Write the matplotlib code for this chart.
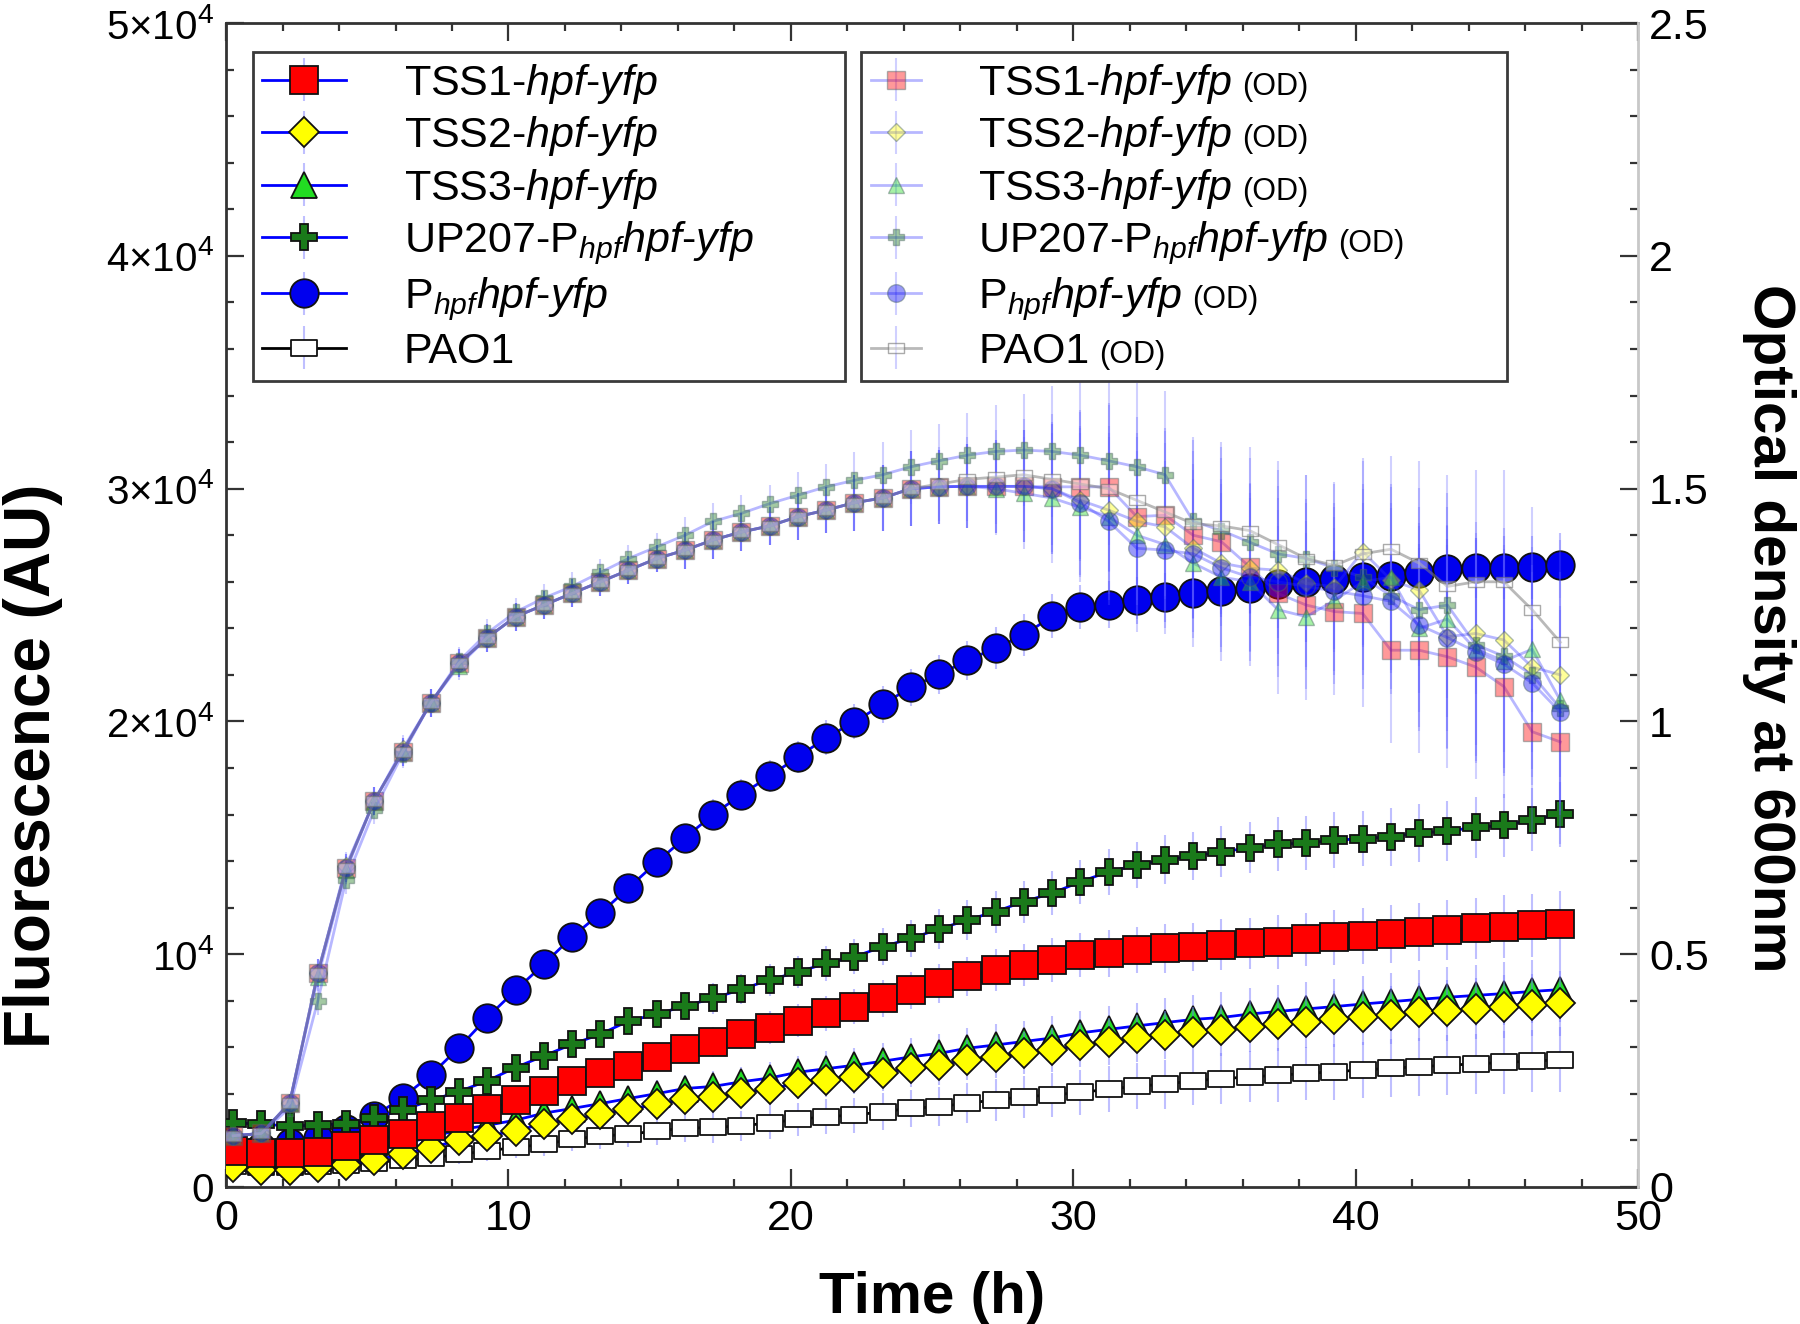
import matplotlib
matplotlib.use("Agg")
import matplotlib.pyplot as plt
from matplotlib.path import Path
from matplotlib.ticker import MultipleLocator, FixedLocator, FixedFormatter
from matplotlib.transforms import IdentityTransform

plt.rcParams['font.family'] = 'Liberation Sans'
plt.rcParams['mathtext.fontset'] = 'custom'
plt.rcParams['mathtext.rm'] = 'Liberation Sans'
plt.rcParams['mathtext.it'] = 'Liberation Sans:italic'
plt.rcParams['mathtext.bf'] = 'Liberation Sans:bold'

# sampling times (h)
time_h = [0.25, 1.25, 2.25, 3.25, 4.25, 5.25, 6.25, 7.25, 8.25, 9.25,
          10.25, 11.25, 12.25, 13.25, 14.25, 15.25, 16.25, 17.25, 18.25, 19.25,
          20.25, 21.25, 22.25, 23.25, 24.25, 25.25, 26.25, 27.25, 28.25, 29.25,
          30.25, 31.25, 32.25, 33.25, 34.25, 35.25, 36.25, 37.25, 38.25, 39.25,
          40.25, 41.25, 42.25, 43.25, 44.25, 45.25, 46.25, 47.25]

# fluorescence (AU)
fl_tss1 = [1550, 1480, 1480, 1500, 1760, 2010, 2260, 2620, 2980, 3340,
           3720, 4130, 4560, 4910, 5200, 5590, 5920, 6230, 6580, 6840,
           7150, 7460, 7750, 8100, 8450, 8750, 9050, 9320, 9540, 9750,
           9970, 10040, 10180, 10250, 10310, 10400, 10470, 10530, 10640, 10720,
           10800, 10870, 10950, 11030, 11110, 11190, 11240, 11300]
fl_tss2 = [850, 750, 750, 850, 950, 1150, 1400, 1690, 2010, 2190,
           2410, 2720, 2910, 3120, 3340, 3550, 3770, 3850, 4050, 4200,
           4460, 4600, 4740, 4910, 5100, 5240, 5460, 5600, 5740, 5880,
           6100, 6240, 6390, 6530, 6670, 6740, 6890, 7000, 7100, 7200,
           7300, 7400, 7500, 7580, 7660, 7740, 7820, 7890]
fl_tss3 = [1250, 1150, 1150, 1250, 1400, 1600, 1850, 2150, 2450, 2650,
           2870, 3170, 3370, 3580, 3800, 4010, 4230, 4320, 4520, 4680,
           4930, 5080, 5230, 5400, 5590, 5740, 5960, 6100, 6250, 6400,
           6620, 6770, 6920, 7060, 7200, 7280, 7430, 7540, 7650, 7750,
           7860, 7960, 8060, 8150, 8230, 8310, 8400, 8480]
fl_up207 = [2760, 2700, 2620, 2660, 2720, 2980, 3300, 3720, 4100, 4560,
            5130, 5630, 6130, 6560, 7130, 7420, 7780, 8100, 8490, 8900,
            9230, 9610, 9890, 10320, 10680, 11080, 11470, 11830, 12260, 12620,
            13110, 13540, 13830, 14050, 14220, 14400, 14570, 14730, 14780, 14890,
            14970, 15050, 15210, 15290, 15450, 15530, 15770, 16010]
fl_phpf = [1800, 1700, 1900, 2100, 2500, 3050, 3840, 4810, 5990, 7280,
           8450, 9570, 10740, 11750, 12850, 13950, 15000, 16000, 16860, 17650,
           18470, 19300, 19980, 20730, 21470, 22020, 22620, 23160, 23710, 24520,
           24910, 25020, 25200, 25340, 25500, 25600, 25740, 25900, 25980, 26140,
           26220, 26270, 26380, 26550, 26600, 26600, 26630, 26700]
fl_pao1 = [900, 850, 850, 900, 950, 1050, 1150, 1250, 1400, 1550,
           1700, 1830, 2050, 2190, 2260, 2410, 2520, 2560, 2620, 2760,
           2900, 3020, 3090, 3230, 3380, 3450, 3600, 3740, 3880, 3950,
           4060, 4200, 4330, 4420, 4560, 4650, 4730, 4800, 4880, 4950,
           5030, 5100, 5170, 5230, 5290, 5350, 5410, 5460]
fl_err = [300, 300, 300, 300, 300, 350, 350, 400, 400, 450,
          450, 500, 500, 550, 550, 600, 600, 650, 650, 700,
          700, 750, 750, 800, 800, 850, 850, 900, 900, 950,
          950, 1000, 1000, 1050, 1050, 1100, 1100, 1150, 1150, 1200,
          1200, 1250, 1250, 1300, 1300, 1350, 1350, 1400]

# optical density at 600 nm
od_tss1 = [0.11, 0.115, 0.18, 0.46, 0.685, 0.83, 0.935, 1.04, 1.125, 1.18,
           1.225, 1.25, 1.275, 1.30, 1.325, 1.35, 1.368, 1.39, 1.407, 1.42,
           1.44, 1.454, 1.47, 1.48, 1.50, 1.504, 1.505, 1.505, 1.505, 1.504,
           1.504, 1.504, 1.44, 1.443, 1.40, 1.386, 1.332, 1.275, 1.25, 1.236,
           1.232, 1.153, 1.153, 1.139, 1.117, 1.075, 0.978, 0.956]
od_tss2 = [0.11, 0.115, 0.18, 0.46, 0.69, 0.83, 0.94, 1.04, 1.125, 1.18,
           1.225, 1.25, 1.275, 1.30, 1.325, 1.35, 1.368, 1.39, 1.407, 1.42,
           1.44, 1.454, 1.47, 1.48, 1.50, 1.504, 1.505, 1.505, 1.505, 1.50,
           1.475, 1.454, 1.43, 1.418, 1.372, 1.34, 1.329, 1.325, 1.297, 1.289,
           1.365, 1.304, 1.282, 1.182, 1.189, 1.175, 1.117, 1.10]
od_tss3 = [0.11, 0.115, 0.18, 0.45, 0.68, 0.83, 0.935, 1.04, 1.12, 1.18,
           1.225, 1.25, 1.275, 1.30, 1.325, 1.35, 1.368, 1.39, 1.407, 1.42,
           1.44, 1.454, 1.47, 1.48, 1.50, 1.504, 1.505, 1.50, 1.49, 1.48,
           1.46, 1.44, 1.40, 1.38, 1.34, 1.31, 1.30, 1.24, 1.225, 1.26,
           1.30, 1.31, 1.20, 1.22, 1.155, 1.13, 1.155, 1.045]
od_up207 = [0.11, 0.115, 0.17, 0.40, 0.66, 0.81, 0.93, 1.04, 1.13, 1.19,
            1.235, 1.265, 1.29, 1.32, 1.35, 1.375, 1.40, 1.43, 1.447, 1.468,
            1.486, 1.504, 1.518, 1.53, 1.547, 1.56, 1.572, 1.58, 1.583, 1.58,
            1.572, 1.56, 1.547, 1.53, 1.43, 1.41, 1.385, 1.36, 1.35, 1.33,
            1.31, 1.27, 1.24, 1.25, 1.165, 1.14, 1.10, 1.028]
od_phpf = [0.11, 0.115, 0.18, 0.46, 0.685, 0.83, 0.935, 1.04, 1.125, 1.18,
           1.225, 1.25, 1.275, 1.30, 1.325, 1.35, 1.368, 1.39, 1.407, 1.42,
           1.44, 1.454, 1.47, 1.48, 1.50, 1.504, 1.505, 1.505, 1.505, 1.50,
           1.47, 1.43, 1.372, 1.368, 1.36, 1.33, 1.31, 1.30, 1.29, 1.28,
           1.27, 1.258, 1.207, 1.18, 1.15, 1.123, 1.083, 1.02]
od_pao1 = [0.11, 0.115, 0.18, 0.46, 0.685, 0.83, 0.935, 1.04, 1.125, 1.18,
           1.225, 1.25, 1.275, 1.30, 1.325, 1.35, 1.368, 1.39, 1.407, 1.42,
           1.44, 1.454, 1.47, 1.48, 1.50, 1.51, 1.52, 1.525, 1.53, 1.52,
           1.51, 1.50, 1.475, 1.45, 1.425, 1.42, 1.41, 1.38, 1.35, 1.335,
           1.36, 1.37, 1.34, 1.29, 1.30, 1.30, 1.24, 1.17]
od_err = [0.01, 0.01, 0.02, 0.03, 0.03, 0.03, 0.03, 0.03, 0.03, 0.03,
          0.03, 0.03, 0.03, 0.03, 0.03, 0.03, 0.04, 0.04, 0.04, 0.04,
          0.05, 0.05, 0.06, 0.07, 0.08, 0.08, 0.09, 0.10, 0.12, 0.14,
          0.16, 0.18, 0.18, 0.18, 0.18, 0.18, 0.18, 0.18, 0.18, 0.18,
          0.20, 0.20, 0.22, 0.24, 0.24, 0.24, 0.22, 0.22]

labels_fl = ["TSS1-$\\mathit{hpf}$-$\\mathit{yfp}$",
             "TSS2-$\\mathit{hpf}$-$\\mathit{yfp}$",
             "TSS3-$\\mathit{hpf}$-$\\mathit{yfp}$",
             "UP207-$\\mathrm{P}_{\\mathit{hpf}}\\mathit{hpf}$-$\\mathit{yfp}$",
             "$\\mathrm{P}_{\\mathit{hpf}}\\mathit{hpf}$-$\\mathit{yfp}$",
             "PAO1"]

rect = Path([(-1, -0.62), (1, -0.62), (1, 0.62), (-1, 0.62), (-1, -0.62)],
            [Path.MOVETO, Path.LINETO, Path.LINETO, Path.LINETO, Path.CLOSEPOLY])

# marker, face colour, marker size, line colour
styles = [
    ("s", "#ff0000", 20, "#0000ff"),
    ("D", "#ffff00", 15, "#0000ff"),
    ("^", "#22dd22", 19, "#0000ff"),
    ("P", "#1a7a1a", 19, "#0000ff"),
    ("o", "#0000ee", 20.5, "#0000ff"),
    (rect, "#ffffff", 19, "#000000"),
]
fl_data = [fl_tss1, fl_tss2, fl_tss3, fl_up207, fl_phpf, fl_pao1]
od_data = [od_tss1, od_tss2, od_tss3, od_up207, od_phpf, od_pao1]

fig = plt.figure(figsize=(18, 13.24), dpi=100)
ax = fig.add_axes([0.1256, 0.1035, 0.7844, 0.879])
ax2 = ax.twinx()

err_col = (0.45, 0.45, 1.0, 0.45)

fl_handles = [None] * 6
for i in reversed(range(6)):
    m, fc, ms, lc = styles[i]
    h = ax.errorbar(time_h, fl_data[i], yerr=fl_err, color=lc, lw=2.0,
                    marker=m, ms=ms, mfc=fc, mec="#111111", mew=1.3,
                    ecolor=err_col, elinewidth=1.5, capsize=0, zorder=3 + (6 - i))
    fl_handles[i] = h

od_handles = []
for i in range(6):
    m, fc, ms, lc = styles[i]
    face = matplotlib.colors.to_rgba(fc, 0.4)
    if i == 5:
        line_col = (0.5, 0.5, 0.5, 0.55)
        edge = (0.45, 0.45, 0.45, 0.6)
    else:
        line_col = (0.2, 0.2, 1.0, 0.35)
        edge = (0.3, 0.4, 0.4, 0.45)
    h = ax2.errorbar(time_h, od_data[i], yerr=od_err, color=line_col, lw=2.0,
                     marker=m, ms=ms * 0.62, mfc=face, mec=edge, mew=1.0,
                     ecolor=(0.35, 0.35, 1.0, 0.28), elinewidth=1.5, capsize=0)
    od_handles.append(h)

ax.set_xlim(0, 50)
ax.set_ylim(0, 50000)
ax2.set_ylim(0, 2.5)

ax.xaxis.set_major_locator(MultipleLocator(10))
ax.xaxis.set_minor_locator(MultipleLocator(2))
ax.yaxis.set_major_locator(FixedLocator([0, 10000, 20000, 30000, 40000, 50000]))
ax.yaxis.set_major_formatter(FixedFormatter(["0", "10$^{4}$", "2×10$^{4}$", "3×10$^{4}$",
                                              "4×10$^{4}$", "5×10$^{4}$"]))
ax.yaxis.set_minor_locator(MultipleLocator(2000))
ax2.yaxis.set_major_locator(FixedLocator([0, 0.5, 1, 1.5, 2, 2.5]))
ax2.yaxis.set_major_formatter(FixedFormatter(["0", "0.5", "1", "1.5", "2", "2.5"]))
ax2.yaxis.set_minor_locator(MultipleLocator(0.1))

ax.tick_params(which="both", direction="in", top=True, right=False,
               color="#333333", width=1.6, pad=9)
ax.tick_params(axis="x", labelsize=31)
ax.tick_params(axis="y", labelsize=29)
ax.tick_params(which="major", length=13)
ax.tick_params(which="minor", length=6)
ax2.tick_params(which="both", direction="in", labelsize=31, color="#333333",
                width=1.6, pad=8)
ax2.tick_params(which="major", length=13)
ax2.tick_params(which="minor", length=6)

for s in ["left", "bottom", "top"]:
    ax.spines[s].set_color("#333333")
    ax.spines[s].set_linewidth(2)
    ax2.spines[s].set_visible(False)
ax.spines["right"].set_visible(False)
ax2.spines["right"].set_color("#c8c8c8")
ax2.spines["right"].set_linewidth(2)

ax.set_xlabel("Time (h)", fontsize=42, fontweight="bold", va="center")
ax.xaxis.set_label_coords(0.5, -0.095)
ax.set_ylabel("Fluorescence (AU)", fontsize=46, fontweight="bold", va="center")
ax.yaxis.set_label_coords(-0.1365, 0.362)
ax2.set_ylabel("Optical density at 600nm", fontsize=42, fontweight="bold",
               rotation=270, va="center", ha="center")
ax2.yaxis.set_label_coords(1.093, 0.48)

leg_fs = 31
leg_kw = dict(loc="upper left", fontsize=leg_fs, frameon=True, fancybox=False,
              framealpha=1, edgecolor="#3a3a3a", labelspacing=0.2,
              borderpad=0.22, borderaxespad=0, handletextpad=1.33, mode="expand")
leg1 = ax2.legend(fl_handles, labels_fl, bbox_to_anchor=(0.019, 0.6, 0.419, 0.375),
                  handlelength=1.95, **leg_kw)
leg1.get_frame().set_linewidth(2)
ax2.add_artist(leg1)
leg2 = ax2.legend(od_handles, labels_fl, bbox_to_anchor=(0.450, 0.6, 0.457, 0.375),
                  handlelength=1.16, **leg_kw)
leg2.get_frame().set_linewidth(2)

# small "(OD)" suffix after each label of the second legend
fig.canvas.draw()
renderer = fig.canvas.get_renderer()
for txt in leg2.get_texts():
    bb = txt.get_window_extent(renderer)
    bx, by = txt.get_transform().transform(txt.get_position())
    fig.text(bb.x1 + 10, by, "(OD)", fontsize=22, va="baseline",
             transform=IdentityTransform())

fig.savefig("out.png", dpi=100)
